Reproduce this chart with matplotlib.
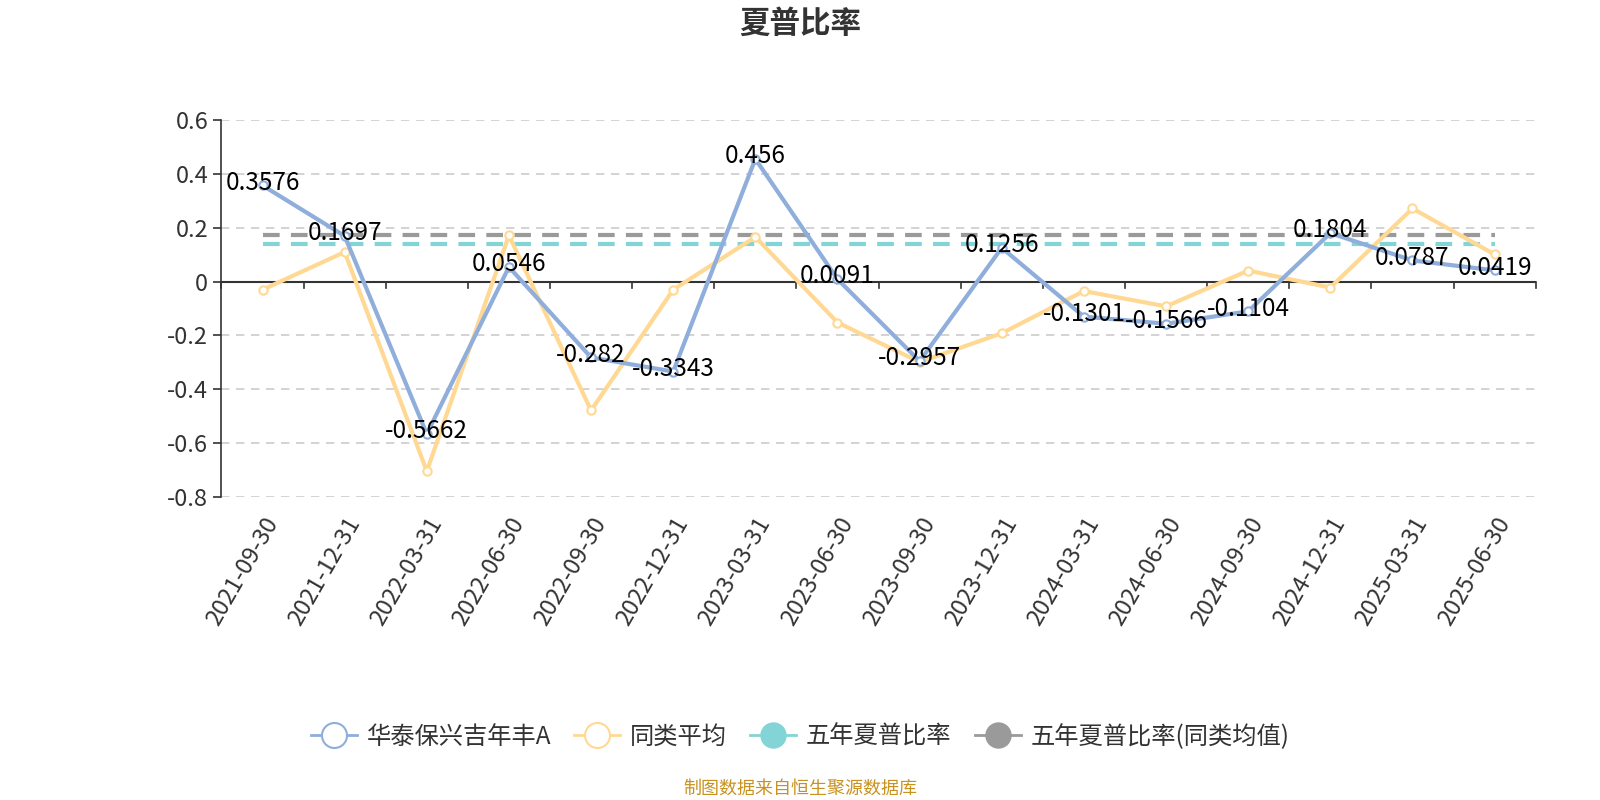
import matplotlib
matplotlib.use("Agg")
import matplotlib.pyplot as plt
from matplotlib.lines import Line2D
import numpy as np

plt.rcParams["font.family"] = ["Noto Sans CJK SC", "DejaVu Sans"]

dates = ["2021-09-30", "2021-12-31", "2022-03-31", "2022-06-30", "2022-09-30",
         "2022-12-31", "2023-03-31", "2023-06-30", "2023-09-30", "2023-12-31",
         "2024-03-31", "2024-06-30", "2024-09-30", "2024-12-31", "2025-03-31",
         "2025-06-30"]
fund = [0.3576, 0.1697, -0.5662, 0.0546, -0.282, -0.3343, 0.456, 0.0091,
        -0.2957, 0.1256, -0.1301, -0.1566, -0.1104, 0.1804, 0.0787, 0.0419]
peer_avg = [-0.03, 0.11, -0.705, 0.172, -0.479, -0.03, 0.166, -0.152,
            -0.299, -0.192, -0.035, -0.092, 0.041, -0.022, 0.272, 0.101]
five_year = 0.141
five_year_peer = 0.175

BLUE = "#8FAEDB"
YELLOW = "#FFD993"
TEAL = "#83D4D6"
GRAY = "#9A9A9A"

fig = plt.figure(figsize=(16, 8), dpi=100)
ax = fig.add_axes([0.1384, 0.379, 0.8214, 0.4707])

x = np.arange(len(dates))
ax.set_xlim(-0.5, len(dates) - 0.5)
ax.set_ylim(-0.8, 0.6)

ax.plot(x, [five_year_peer] * len(x), color=GRAY, lw=3, ls=(0, (4, 2.7)), zorder=2)
ax.plot(x, [five_year] * len(x), color=TEAL, lw=3, ls=(0, (4, 2.7)), zorder=2)
ax.plot(x, peer_avg, color=YELLOW, lw=3, marker="o", ms=6, mfc="white",
        mec=YELLOW, mew=1.5, zorder=3)
ax.plot(x, fund, color=BLUE, lw=3, marker="o", ms=6, mfc="white",
        mec=BLUE, mew=1.5, zorder=4)

for xi, v in zip(x, fund):
    ax.annotate(f"{v:g}", (xi, v), xytext=(0, 2), textcoords="offset points",
                ha="center", va="center", fontsize=17.5, color="black", zorder=5)

# grid
for yv in np.arange(-0.8, 0.61, 0.2):
    if abs(yv) > 1e-9:
        ax.axhline(yv, color="#CCCCCC", lw=1.2, ls=(0, (5, 4)), zorder=1)

for s in ["top", "right", "bottom"]:
    ax.spines[s].set_visible(False)
ax.spines["left"].set_color("#333333")
ax.spines["left"].set_linewidth(1.2)
ax.axhline(0, color="#333333", lw=1.5, zorder=2)

ax.set_yticks(np.arange(-0.8, 0.61, 0.2))
ax.set_yticklabels(["-0.8", "-0.6", "-0.4", "-0.2", "0", "0.2", "0.4", "0.6"])
ax.tick_params(axis="y", labelsize=17, length=6, width=1.2, color="#333333",
               labelcolor="#333333")

# x ticks at band edges on zero line, labels at centers
for b in np.arange(-0.5, len(dates), 1.0):
    ax.plot([b, b], [0, -0.025], color="#333333", lw=1.2, zorder=2, clip_on=False)
ax.set_xticks(x)
ax.set_xticklabels(dates, rotation=60, ha="right", va="top", rotation_mode="anchor")
ax.tick_params(axis="x", length=0, labelsize=17, labelcolor="#333333", pad=12)

fig.text(0.5, 0.97, "夏普比率", ha="center", va="center", fontsize=22,
         fontweight="bold", color="#333333")

handles = [
    Line2D([], [], color=BLUE, lw=2, marker="o", ms=18, mfc="white", mec=BLUE, mew=1.5),
    Line2D([], [], color=YELLOW, lw=2, marker="o", ms=18, mfc="white", mec=YELLOW, mew=1.5),
    Line2D([], [], color=TEAL, lw=2, marker="o", ms=18, mfc=TEAL, mec=TEAL),
    Line2D([], [], color=GRAY, lw=2, marker="o", ms=18, mfc=GRAY, mec=GRAY),
]
labels = ["华泰保兴吉年丰A", "同类平均", "五年夏普比率", "五年夏普比率(同类均值)"]
fig.legend(handles, labels, loc="center", bbox_to_anchor=(0.5, 0.079), ncol=4,
           frameon=False, fontsize=17.5, handlelength=1.9, columnspacing=0.95,
           handletextpad=0.4, labelcolor="#333333")

fig.text(0.5, 0.014, "制图数据来自恒生聚源数据库", ha="center", va="center",
         fontsize=13, color="#C8921E")

fig.savefig("out.png", dpi=100)
